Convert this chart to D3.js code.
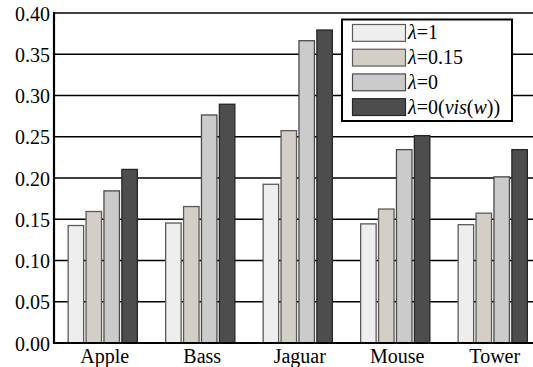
<!DOCTYPE html>
<html>
<head>
<meta charset="utf-8">
<script src="https://cdn.jsdelivr.net/npm/d3@7"></script>
<style>
  html, body { margin: 0; padding: 0; background: #fff; }
  svg text, svg tspan { font-family: "Liberation Serif", "Times New Roman", Tinos, serif !important; }
</style>
</head>
<body>
<svg id="chart" width="533" height="367" font-family="Liberation Serif"></svg>
<script>
// Scene categories and the four weighting settings compared
const categories = ["Apple", "Bass", "Jaguar", "Mouse", "Tower"];
const seriesKeys = ["l1", "l015", "l0", "l0vis"];
const lambda1    = [0.143, 0.146, 0.193, 0.145, 0.144];
const lambda015  = [0.160, 0.166, 0.258, 0.163, 0.158];
const lambda0    = [0.185, 0.277, 0.367, 0.235, 0.202];
const lambda0vis = [0.211, 0.290, 0.380, 0.252, 0.235];
const yTicks = [0.00, 0.05, 0.10, 0.15, 0.20, 0.25, 0.30, 0.35, 0.40];
const colors = ["#eeeeee", "#d3cfc6", "#cbcbcb", "#4d4d4d"];
const strokes = ["#5a5a5a", "#5a5a5a", "#4a4a4a", "#262626"];

const FONT = '"Liberation Serif", "Times New Roman", Tinos, serif';

const seriesValues = [lambda1, lambda015, lambda0, lambda0vis];
const rows = categories.map((c, i) => ({
  category: c,
  values: seriesKeys.map((k, j) => ({ key: k, idx: j, value: seriesValues[j][i] }))
}));

const W = 533, H = 367;
const mLeft = 54, mTop = 13, mBottom = 343, mRight = 541.5;

const svg = d3.select("#chart");

const x = d3.scaleBand().domain(categories).range([mLeft, mRight])
  .paddingInner(0.28).paddingOuter(0.14);
const xs = d3.scaleBand().domain(seriesKeys).range([0, x.bandwidth()])
  .paddingInner(0.08);
const y = d3.scaleLinear().domain([0, 0.40]).range([mBottom, mTop]);

// horizontal grid lines
svg.append("g").selectAll("line")
  .data(yTicks.filter(t => t > 0))
  .join("line")
  .attr("x1", mLeft).attr("x2", W)
  .attr("y1", d => y(d)).attr("y2", d => y(d))
  .attr("stroke", "#000").attr("stroke-width", 1.6);

// bars
svg.append("g").selectAll("g")
  .data(rows)
  .join("g")
  .attr("transform", d => `translate(${x(d.category)},0)`)
  .selectAll("rect")
  .data(d => d.values)
  .join("rect")
  .attr("x", d => xs(d.key) + 0.5)
  .attr("y", d => y(d.value) + 0.5)
  .attr("width", xs.bandwidth() - 1)
  .attr("height", d => mBottom - y(d.value) - 0.5)
  .attr("fill", d => colors[d.idx])
  .attr("stroke", d => strokes[d.idx])
  .attr("stroke-width", 1.3);

function serif(sel) {
  sel.style("font-family", FONT, "important")
     .style("font-size", "20px")
     .attr("fill", "#000");
}

// y axis
const yAxis = svg.append("g")
  .attr("transform", `translate(${mLeft},0)`)
  .call(d3.axisLeft(y).tickValues(yTicks).tickFormat(d3.format(".2f")).tickSize(0).tickPadding(4))
  .attr("font-family", null).attr("font-size", null);
yAxis.select(".domain").remove();
yAxis.selectAll("text").call(serif).attr("dy", "0.36em");

svg.append("line")
  .attr("x1", mLeft).attr("x2", mLeft)
  .attr("y1", mTop - 1).attr("y2", mBottom + 1)
  .attr("stroke", "#000").attr("stroke-width", 2.2);
svg.append("line")
  .attr("x1", mLeft - 1).attr("x2", W)
  .attr("y1", mBottom).attr("y2", mBottom)
  .attr("stroke", "#000").attr("stroke-width", 2.2);

// x axis labels
const xAxis = svg.append("g")
  .attr("transform", `translate(2,${mBottom})`)
  .call(d3.axisBottom(x).tickSize(0).tickPadding(6))
  .attr("font-family", null).attr("font-size", null);
xAxis.select(".domain").remove();
xAxis.selectAll("text").call(serif).attr("dy", "0.71em");

// legend
const lg = svg.append("g");
lg.append("rect")
  .attr("x", 342).attr("y", 19.5)
  .attr("width", 170).attr("height", 101.5)
  .attr("fill", "#fff").attr("stroke", "#000").attr("stroke-width", 2);

const legendLabels = [
  [["λ", true], ["=1", false]],
  [["λ", true], ["=0.15", false]],
  [["λ", true], ["=0", false]],
  [["λ", true], ["=0(", false], ["vis", true], ["(", false], ["w", true], ["))", false]]
];
const ly = d3.scaleBand().domain(seriesKeys).range([24.5, 115.5]).paddingInner(0.32);

const items = lg.selectAll("g.item")
  .data(seriesKeys.map((k, i) => ({ key: k, idx: i })))
  .join("g").attr("class", "item");
items.append("rect")
  .attr("x", 352.5).attr("y", d => ly(d.key))
  .attr("width", 53).attr("height", ly.bandwidth())
  .attr("fill", d => colors[d.idx])
  .attr("stroke", d => strokes[d.idx])
  .attr("stroke-width", 1.2);
const txt = items.append("text")
  .attr("x", 408)
  .attr("y", d => ly(d.key) + ly.bandwidth() / 2 + 6.5)
  .call(serif);
txt.selectAll("tspan")
  .data(d => legendLabels[d.idx])
  .join("tspan")
  .style("font-style", d => d[1] ? "italic" : "normal")
  .text(d => d[0]);
</script>
</body>
</html>
